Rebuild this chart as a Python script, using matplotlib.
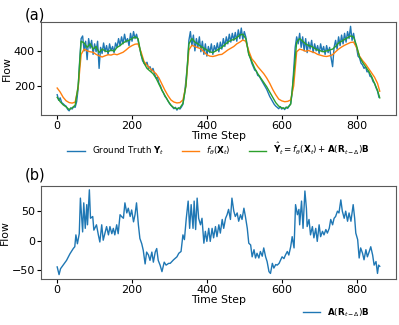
import matplotlib
matplotlib.use("Agg")
import matplotlib.pyplot as plt
import numpy as np

# ---- data ----
# ground truth Y_t (every 4 steps)
truth_t = np.arange(0, 864, 4)
truth = [150, 118, 132, 105, 98, 90, 84, 66, 58, 75, 68, 82, 78, 110, 185, 340,
         470, 485, 400, 455, 350, 470, 415, 460, 380, 440, 395, 455, 300, 420, 385, 445,
         395, 430, 380, 440, 400, 425, 390, 445, 420, 470, 430, 480, 440, 495, 450, 470,
         430, 500, 455, 510, 470, 495, 460, 420, 380, 345, 330, 320, 335, 300, 310, 285,
         300, 270, 245, 250, 215, 200, 175, 160, 140, 130, 115, 100, 90, 80, 70, 78,
         62, 75, 68, 80, 95, 150, 230, 320, 460, 510, 430, 490, 400, 470, 420, 480,
         395, 455, 380, 440, 370, 425, 390, 440, 380, 430, 400, 445, 395, 450, 410, 470,
         425, 480, 440, 495, 450, 500, 460, 505, 455, 520, 470, 530, 465, 510, 480, 430,
         380, 360, 330, 310, 290, 285, 260, 255, 240, 225, 210, 195, 180, 160, 140, 125,
         110, 95, 85, 78, 70, 82, 68, 75, 65, 80, 72, 85, 100, 160, 290, 420,
         480, 440, 500, 420, 480, 400, 470, 390, 450, 410, 460, 390, 440, 400, 430, 385,
         440, 395, 425, 380, 430, 390, 420, 360, 310, 420, 460, 410, 480, 430, 490, 440,
         500, 450, 510, 470, 540, 460, 500, 450, 420, 370, 360, 330, 320, 300, 310, 280,
         285, 255, 250, 225, 215, 190, 170, 135]

# f_theta(X_t) (every 8 steps)
model_t = [0, 8, 16, 24, 32, 40, 48, 56, 64, 72, 80, 88, 96, 104, 112, 120,
           128, 136, 144, 152, 160, 168, 176, 184, 192, 200, 208, 216, 224, 232, 240, 248,
           256, 264, 272, 280, 288, 296, 304, 312, 320, 328, 336, 344, 352, 360, 368, 376,
           384, 392, 400, 408, 416, 424, 432, 440, 448, 456, 464, 472, 480, 488, 496, 504,
           512, 520, 528, 536, 544, 552, 560, 568, 576, 584, 592, 600, 608, 616, 624, 632,
           640, 648, 656, 664, 672, 680, 688, 696, 704, 712, 720, 728, 736, 744, 752, 760,
           768, 776, 784, 792, 800, 808, 816, 824, 832, 840, 848, 856, 862]
model = [188, 165, 135, 115, 105, 102, 108, 190, 380, 410, 400, 395, 392, 380, 372, 365,
         372, 378, 376, 382, 378, 385, 392, 405, 420, 430, 438, 440, 395, 340, 318, 300,
         285, 270, 245, 210, 175, 145, 120, 108, 103, 105, 120, 200, 405, 432, 425, 418,
         412, 395, 378, 370, 368, 372, 378, 380, 392, 405, 415, 425, 440, 450, 462, 455,
         400, 355, 335, 310, 290, 270, 245, 215, 180, 150, 125, 115, 110, 112, 120, 200,
         395, 410, 405, 398, 402, 395, 390, 380, 375, 370, 368, 372, 378, 395, 410, 422,
         432, 440, 448, 450, 420, 370, 345, 325, 300, 275, 250, 215, 170]

# Y_hat_t (every 8 steps)
pred = [135, 110, 92, 80, 65, 75, 90, 200, 455, 445, 420, 440, 410, 425, 390, 410,
        400, 395, 405, 398, 420, 430, 445, 455, 460, 470, 480, 470, 380, 330, 300, 285,
        270, 245, 210, 175, 145, 115, 90, 75, 70, 75, 100, 200, 440, 470, 450, 440,
        425, 415, 405, 395, 390, 400, 410, 420, 435, 450, 460, 465, 475, 490, 495, 470,
        380, 340, 300, 270, 245, 220, 195, 165, 135, 105, 85, 75, 72, 78, 95, 260,
        450, 470, 455, 440, 430, 425, 415, 405, 400, 395, 400, 405, 410, 425, 445, 455,
        465, 475, 485, 480, 430, 365, 335, 310, 285, 255, 215, 175, 132]

# A(R_{t-Delta})B
resid_t = [0, 5, 9, 16, 25, 34, 43, 47, 50, 54, 59, 62, 68, 71, 75, 79,
           81, 86, 89, 95, 98, 105, 110, 114, 119, 123, 132, 137, 141, 146, 150, 154,
           159, 163, 168, 172, 177, 181, 186, 190, 195, 199, 204, 208, 212, 217, 221, 226,
           230, 235, 239, 244, 248, 253, 257, 262, 266, 270, 275, 280, 286, 291, 298, 302,
           311, 320, 325, 331, 336, 340, 345, 350, 354, 358, 363, 366, 370, 374, 378, 383,
           387, 392, 396, 400, 405, 409, 414, 418, 423, 427, 432, 436, 441, 445, 450, 454,
           458, 463, 467, 472, 476, 481, 485, 490, 494, 499, 503, 508, 512, 517, 521, 526,
           530, 534, 539, 543, 548, 552, 557, 561, 566, 570, 575, 579, 584, 588, 593, 601,
           606, 610, 615, 619, 624, 628, 633, 637, 642, 646, 648, 653, 657, 662, 666, 668,
           673, 677, 682, 686, 691, 695, 700, 704, 709, 713, 718, 722, 727, 731, 736, 740,
           744, 749, 753, 758, 762, 767, 771, 776, 780, 785, 791, 795, 798, 803, 807, 811,
           816, 820, 825, 829, 834, 838, 843, 847, 852, 856, 859, 862]
resid = [-44, -57, -47, -41, -33, -22, -13, -10, 10, -5, 12, 72, 15, 64, 21, 61,
         27, 86, 38, 41, 18, 27, 10, -2, 27, 1, 24, 10, 24, 12, 21, 10,
         27, 12, 44, 41, 38, 64, 47, 55, 41, 52, 32, 44, 64, 27, 4, -5,
         -16, -39, -19, -24, -33, -19, -36, -19, -13, -33, -41, -52, -36, -41, -38, -38,
         -32, -27, -21, -18, 10, 2, 38, 67, 21, 61, 21, 67, 19, 72, 38, 27,
         38, -4, 16, -1, 21, -1, 21, 5, 24, 7, 27, 13, 36, 21, 38, 44,
         53, 36, 72, 50, 41, 47, 33, 44, 36, 55, 41, 21, -4, -7, -27, -15,
         -29, -21, -29, -18, -26, -12, -27, -35, -52, -55, -38, -46, -40, -41, -38, -27,
         -30, -24, -18, -24, -10, 7, -12, 61, 44, 53, 27, 67, 21, 84, 55, 24,
         36, 10, 24, 5, 21, -1, 27, 7, 16, 10, 19, 13, 21, 36, 27, 38,
         41, 50, 47, 69, 50, 38, 50, 33, 47, 33, 61, 38, 13, 2, -29, -12,
         -21, -32, -15, -27, -18, -10, -24, -41, -35, -55, -41, -43]

model_t = np.array(model_t)
pred_t = model_t

plt.rcParams['font.family'] = 'DejaVu Sans'
fig = plt.figure(figsize=(3.99, 3.25), dpi=100)

ax1 = fig.add_axes([0.103, 0.646, 0.890, 0.286])
ax1.plot(truth_t, truth, color='C0', lw=1.0, label=r'Ground Truth $\mathbf{Y}_t$')
ax1.plot(model_t, model, color='C1', lw=1.0, label=r'$f_\theta(\mathbf{X}_t)$')
ax1.plot(pred_t, pred, color='C2', lw=1.0,
         label=r'$\hat{\mathbf{Y}}_t = f_\theta(\mathbf{X}_t) + \mathbf{A}(\mathbf{R}_{t-\Delta})\mathbf{B}$')
ax1.set_xlim(-43, 906)
ax1.set_yticks([200, 400])
ax1.set_xticks([0, 200, 400, 600, 800])
ax1.set_ylabel('Flow', fontsize=7.8, labelpad=1.5)
ax1.set_xlabel('Time Step', fontsize=7.8, labelpad=0)
ax1.tick_params(labelsize=8, length=3, pad=1.5)
ax1.legend(loc='center', bbox_to_anchor=(0.5, -0.37), ncol=3, frameon=False, fontsize=6.3)
fig.text(0.062, 0.955, '(a)', fontsize=10.5, ha='left', va='center')

ax2 = fig.add_axes([0.103, 0.142, 0.890, 0.287])
ax2.plot(resid_t, resid, color='C0', lw=1.0, label=r'$\mathbf{A}(\mathbf{R}_{t-\Delta})\mathbf{B}$')
ax2.set_xlim(-43, 906)
ax2.set_yticks([-50, 0, 50])
ax2.set_xticks([0, 200, 400, 600, 800])
ax2.set_ylabel('Flow', fontsize=7.8, labelpad=1.5)
ax2.set_xlabel('Time Step', fontsize=7.8, labelpad=0)
ax2.tick_params(labelsize=8, length=3, pad=1.5)
ax2.legend(loc='center', bbox_to_anchor=(0.831, -0.361), frameon=False, fontsize=6.3)
fig.text(0.062, 0.46, '(b)', fontsize=10.5, ha='left', va='center')

for ax in (ax1, ax2):
    for s in ax.spines.values():
        s.set_color('0.35')

fig.savefig('out.png', dpi=100)
